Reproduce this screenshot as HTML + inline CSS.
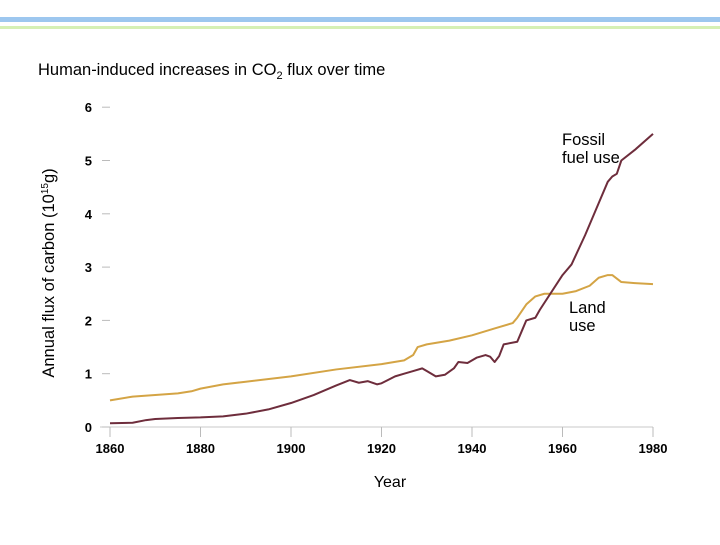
<!DOCTYPE html>
<html><head><meta charset="utf-8"><style>
body{margin:0;background:#fff;}
svg text{font-family:"Liberation Sans",Arial,sans-serif;}
</style></head><body>
<svg width="720" height="540" viewBox="0 0 720 540" xmlns="http://www.w3.org/2000/svg">
<rect x="0" y="17" width="720" height="5" fill="#9dc7ef"/>
<rect x="0" y="26" width="720" height="3" fill="#d5f0b5"/>
<text x="38" y="75" font-size="16.5" fill="#000">Human-induced increases in CO<tspan font-size="11" dy="4">2</tspan><tspan dy="-4"> flux over time</tspan></text>
<text transform="translate(54,273) rotate(-90)" text-anchor="middle" font-size="16.5">Annual flux of carbon (10<tspan font-size="10" dy="-6">15</tspan><tspan dy="6">g)</tspan></text>
<text x="390" y="487" text-anchor="middle" font-size="16">Year</text>
<g id="axes"></g>
<g id="series"></g>
<text x="562" y="145" font-size="16.5">Fossil</text>
<text x="562" y="163" font-size="16.5">fuel use</text>
<text x="569" y="313" font-size="16.5">Land</text>
<text x="569" y="331" font-size="16.5">use</text>
</svg>
<script>
const yTicks=[0,1,2,3,4,5,6];
const xTicks=[1860,1880,1900,1920,1940,1960,1980];
const fossilYears=[1860,1865,1868,1870,1875,1880,1885,1890,1895,1900,1905,1910,1913,1915,1917,1919,1920,1923,1925,1927,1929,1930,1932,1934,1936,1937,1939,1941,1943,1944,1945,1946,1947,1950,1951,1952,1954,1955,1960,1962,1965,1968,1970,1971,1972,1973,1976,1980];
const fossilValues=[0.07,0.08,0.13,0.15,0.17,0.18,0.2,0.25,0.33,0.45,0.6,0.78,0.88,0.83,0.86,0.8,0.82,0.95,1.0,1.05,1.1,1.05,0.95,0.98,1.1,1.22,1.2,1.3,1.35,1.32,1.22,1.33,1.55,1.6,1.8,2.0,2.05,2.2,2.85,3.05,3.6,4.2,4.6,4.7,4.75,5.0,5.2,5.5];
const landYears=[1860,1865,1870,1875,1878,1880,1885,1890,1900,1910,1920,1925,1927,1928,1930,1935,1940,1945,1949,1950,1952,1954,1956,1960,1963,1966,1968,1970,1971,1973,1976,1980];
const landValues=[0.5,0.57,0.6,0.63,0.67,0.72,0.8,0.85,0.95,1.08,1.18,1.25,1.35,1.5,1.55,1.62,1.72,1.85,1.95,2.05,2.3,2.45,2.5,2.5,2.55,2.65,2.8,2.85,2.85,2.72,2.7,2.68];
const NS="http://www.w3.org/2000/svg";
const X=y=>110+(y-1860)*(653-110)/120;
const Y=v=>427-v*53.3;
const axes=document.getElementById('axes'),series=document.getElementById('series');
function mk(tag,attrs,parent){const e=document.createElementNS(NS,tag);for(const k in attrs)e.setAttribute(k,attrs[k]);parent.appendChild(e);return e;}
const base=mk('line',{x1:100,x2:653,y1:427,y2:427,stroke:'#c8c8c8','stroke-width':1},axes);


yTicks.forEach(t=>{
  const l=mk('line',{x1:102,x2:110,y1:Y(t),y2:Y(t),stroke:'#bbb','stroke-width':1},axes);
  
  
  const tx=mk('text',{x:92,y:Y(t)+5,'text-anchor':'end','font-size':13,'font-weight':'bold'},axes);
  tx.textContent=t;
  
  
});
xTicks.forEach(t=>{
  const l=mk('line',{x1:X(t),x2:X(t),y1:427,y2:437,stroke:'#bbb','stroke-width':1},axes);
  
  
  const tx=mk('text',{x:X(t),y:453,'text-anchor':'middle','font-size':13,'font-weight':'bold'},axes);
  tx.textContent=t;
  
  
});
function line(ys,vs,color,name){
  const p=mk('polyline',{points:ys.map((y,i)=>X(y)+','+Y(vs[i])).join(' '),fill:'none',stroke:color,'stroke-width':2,'stroke-linejoin':'round'},series);
  
  
}
line(landYears,landValues,'#d4a445','land-use-line');
line(fossilYears,fossilValues,'#6e2d3c','fossil-fuel-line');
</script>
</body></html>
